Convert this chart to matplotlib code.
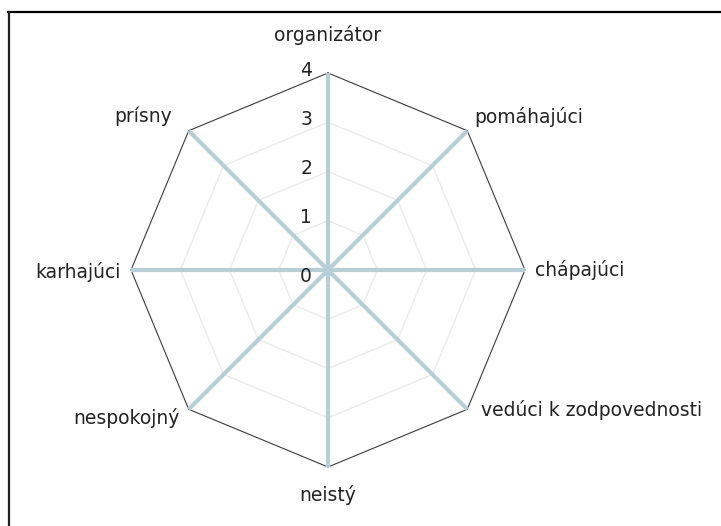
import matplotlib
matplotlib.use("Agg")
import matplotlib.pyplot as plt
import numpy as np
from matplotlib.lines import Line2D

plt.rcParams["font.family"] = ["DejaVu Sans"]

categories = ["organizátor", "pomáhajúci", "chápajúci", "vedúci k zodpovednosti",
              "neistý", "nespokojný", "karhajúci", "prísny"]
values = [4, 4, 4, 4, 4, 4, 4, 4]
ticks = [0, 1, 2, 3, 4]
r_max = 4

# label offsets in pixels (dx, dy) and horizontal alignment, per category
label_layout = [
    (0, 38, "center"), (7, 14, "left"), (10, 0, "left"), (14, -1, "left"),
    (0, -28, "center"), (-9, -9, "right"), (-10, -2, "right"), (-17, 14, "right"),
]

W, H = 721, 526
cx, cy, rad_px = 328, 270, 197
s = r_max / rad_px

fig = plt.figure(figsize=(W / 100, H / 100), dpi=100)
ax = fig.add_axes([0, 0, 1, 1])
ax.set_xlim(-cx * s, (W - cx) * s)
ax.set_ylim(-(H - cy) * s, cy * s)
ax.set_aspect("equal")
ax.axis("off")

n = len(categories)
ang = np.pi / 2 - np.arange(n) * 2 * np.pi / n
ang_c = np.append(ang, ang[0])

# inner grid
for t in ticks[1:-1]:
    ax.plot(t * np.cos(ang_c), t * np.sin(ang_c), color="#ebebeb", lw=1, zorder=1)

# series (outer polygon)
v = np.append(values, values[0])
ax.plot(v * np.cos(ang_c), v * np.sin(ang_c), color="#3a3a3a", lw=0.8, zorder=2)

# spokes
for a in ang:
    ax.plot([0, r_max * np.cos(a)], [0, r_max * np.sin(a)], color="#b8ced7",
            lw=3, solid_capstyle="butt", zorder=3)

for t in ticks:
    ax.annotate(str(t), (0, t), xytext=(-16, 3 if t else -6), textcoords="offset pixels",
                ha="right", va="center", fontsize=13.5, color="#222222")

for name, a, val, (dx, dy, ha) in zip(categories, ang, values, label_layout):
    ax.annotate(name, (val * np.cos(a), val * np.sin(a)), xytext=(dx, dy),
                textcoords="offset pixels", ha=ha, va="center", fontsize=13.5, color="#222222")

# chart border (top and left edges visible)
fig.add_artist(Line2D([8 / W, 1], [1 - 12 / H, 1 - 12 / H], color="black", lw=1.6,
                      transform=fig.transFigure))
fig.add_artist(Line2D([9 / W, 9 / W], [0, 1 - 12 / H], color="#222222", lw=1.6,
                      transform=fig.transFigure))

fig.savefig("out.png", dpi=100)
